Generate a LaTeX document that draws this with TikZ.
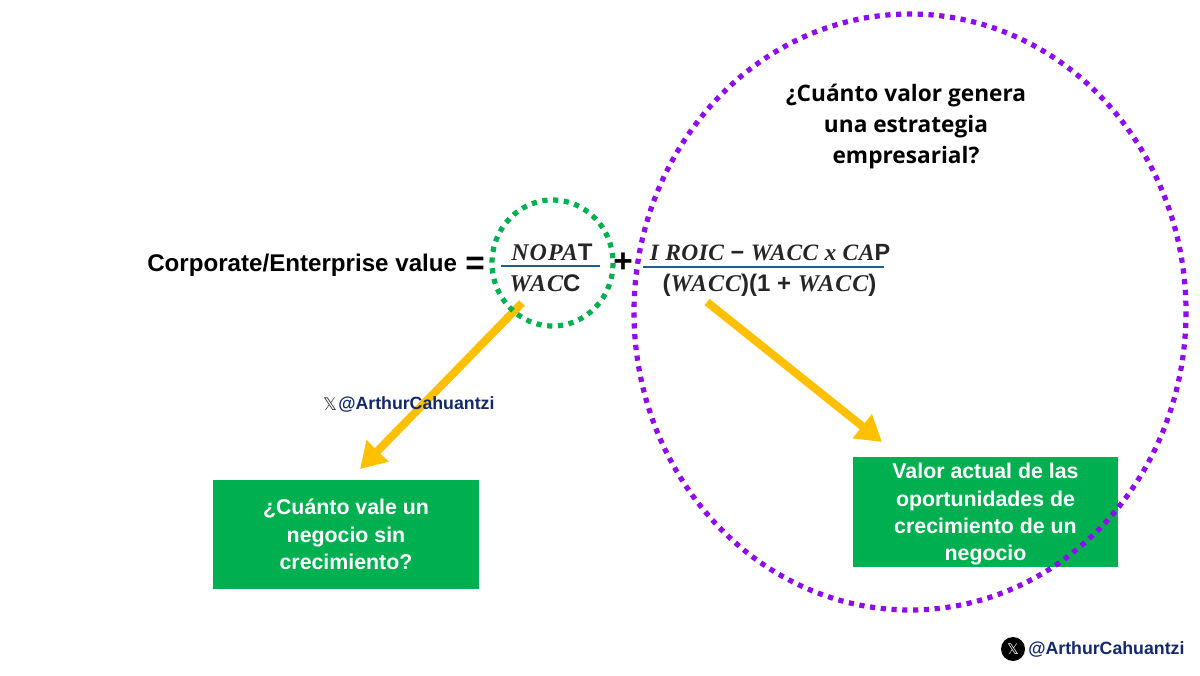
\documentclass[tikz,border=0pt]{standalone}
\usepackage{fontspec}
\setmainfont{Liberation Sans}
\newfontfamily\headfont{Open Sans}
\newfontfamily\mathserif[LetterSpace=4]{Liberation Serif}
\newfontfamily\mathtight[LetterSpace=2]{Liberation Serif}
\newfontfamily\xfont{DejaVu Sans}
\usetikzlibrary{arrows.meta}
\definecolor{gbox}{HTML}{00B050}
\definecolor{amber}{HTML}{FFC000}
\definecolor{violet}{HTML}{8F0CF0}
\definecolor{navy}{HTML}{12296B}
\definecolor{rule}{HTML}{1F5F8B}
\newcommand{\fs}[2]{\fontsize{#1pt}{#2pt}\selectfont}
\newcommand{\mi}[1]{{\mathserif\bfseries\itshape #1}}
\newcommand{\mt}[1]{{\mathtight\bfseries\itshape #1}}
\tikzset{
  dotring/.style={line width=3.9pt,dash pattern=on 3.9pt off 4.2pt},
  yarrow/.style={draw=amber,line width=6pt,-{Triangle[length=19pt,width=22pt]}},
  greenbox/.style={fill=gbox,text=white,inner sep=0pt,align=center,font=\bfseries\fs{16}{20.5}},
  fracrule/.style={draw=rule,line width=1.6pt},
  eqn/.style={inner sep=0pt,anchor=base,text=black!85,font=\bfseries\fs{18}{20}},
  bigsign/.style={inner sep=0pt,text=black,font=\bfseries\fs{25}{28}},
  handle/.style={inner sep=0pt,text=navy,font=\bfseries\fs{13.3}{16}},
}
\begin{document}
\begin{tikzpicture}[x=0.75pt,y=-0.75pt]
\useasboundingbox (0,0) rectangle (1200,675);
\fill[white] (0,0) rectangle (1200,675);
% arrows
\coordinate (a1s) at (522,303);
\coordinate (a1e) at (360,469);
\coordinate (a2s) at (707,302);
\coordinate (a2e) at (882,442);
\draw[yarrow] (a1s) -- (a1e);
\draw[yarrow] (a2s) -- (a2e);
% boxes
\node[greenbox,minimum width=199.5pt,minimum height=81.75pt] (b1) at (346,534.5) {¿Cuánto vale un\\negocio sin\\crecimiento?};
\node[greenbox,minimum width=198.75pt,minimum height=82.5pt] (b2) at (985.5,512) {};
\node[greenbox,fill=none] (b2t) at (985.5,514.5) {Valor actual de las\\oportunidades de\\crecimiento de un\\negocio};
% rings
\draw[draw=gbox,dotring] (552.5,263) ellipse [x radius=60.5,y radius=63];
\draw[draw=violet,dotring] (910,312) ellipse [x radius=276,y radius=298];
% texts
\node[inner sep=0pt,anchor=west,font=\bfseries\fs{18.1}{20}] (cv) at (147,265) {Corporate/Enterprise value};
\node[bigsign] (eq) at (475,266) {=};
\node[bigsign] (plus) at (623,263) {+};
\coordinate (r1l) at (501,266);
\coordinate (r1r) at (600,266);
\coordinate (r2l) at (643,267);
\coordinate (r2r) at (884,267);
\draw[fracrule] (r1l) -- (r1r);
\draw[fracrule] (r2l) -- (r2r);
\node[eqn] (n1) at (552,260) {\mi{NOPA}T};
\node[eqn] (d1) at (545,291) {\mi{WAC}C};
\node[eqn,font=\bfseries\fs{17.6}{20}] (n2) at (770,260) {\mt{I ROIC} − \mt{WACC x CA}P};
\node[eqn] (d2) at (769.5,291) {(\mi{WACC})(1 + \mi{WACC})};
\node[inner sep=0pt,align=center,font=\headfont\bfseries\fs{17}{23}] (q) at (906,126.5) {¿Cuánto valor genera\\una estrategia\\empresarial?};
\node[handle,anchor=west] (h1) at (338,404) {@ArthurCahuantzi};
\node[inner sep=0pt,text=black!80,font=\xfont\fs{13}{15}] (x1) at (330,404) {𝕏};
\node[handle,anchor=west] (h2) at (1028,649) {@ArthurCahuantzi};
\node[circle,fill=black,text=white,inner sep=0pt,minimum size=18pt,font=\xfont\fs{11}{13}] (x2) at (1013,649) {𝕏};
\end{tikzpicture}
\end{document}
